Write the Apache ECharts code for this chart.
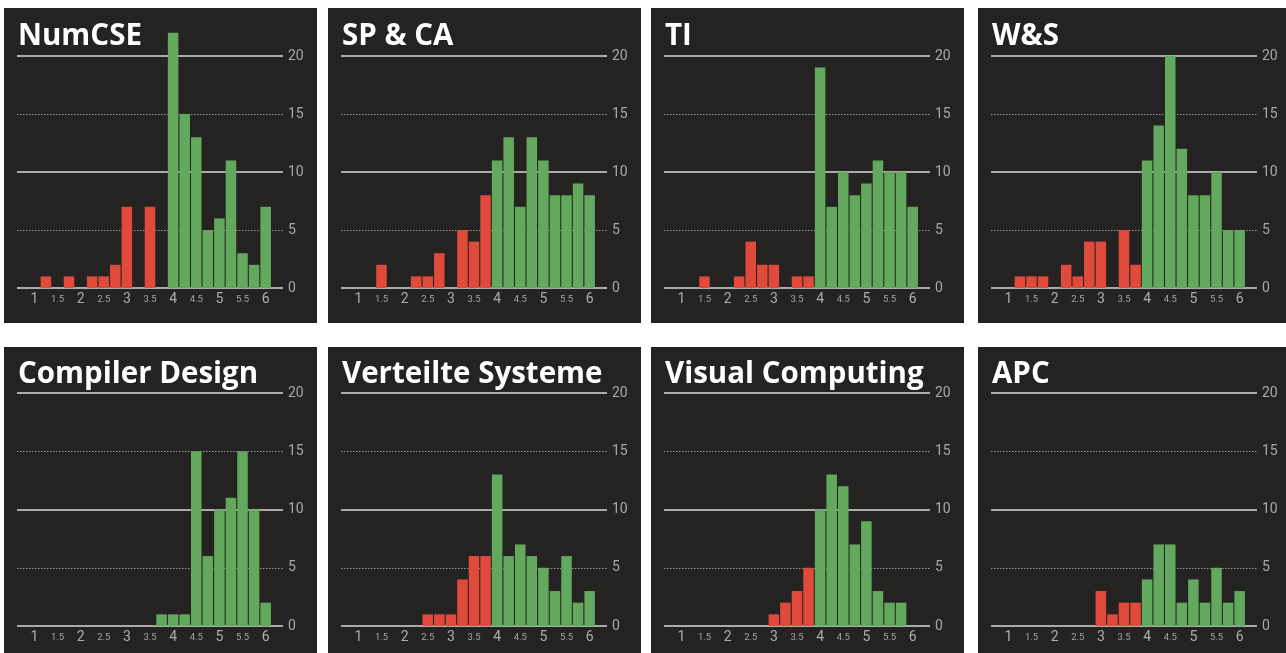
<!DOCTYPE html>
<html>
<head>
<meta charset="utf-8">
<script src="https://cdn.jsdelivr.net/npm/echarts@6/dist/echarts.min.js"></script>
<style>
  html, body { margin: 0; padding: 0; background: #ffffff; }
  #chart { width: 1286px; height: 653px; }
</style>
</head>
<body>
<div id="chart"></div>
<script>
// ---- Data ----
const grades = ['1','1.25','1.5','1.75','2','2.25','2.5','2.75','3','3.25','3.5','3.75','4','4.25','4.5','4.75','5','5.25','5.5','5.75','6'];
const courses = ['NumCSE', 'SP & CA', 'TI', 'W&S', 'Compiler Design', 'Verteilte Systeme', 'Visual Computing', 'APC'];
const numCSE       = [0,1,0,1,0,1,1,2,7,0,7,0,22,15,13,5,6,11,3,2,7];
const spCA         = [0,0,2,0,0,1,1,3,0,5,4,8,11,13,7,13,11,8,8,9,8];
const ti           = [0,0,1,0,0,1,4,2,2,0,1,1,19,7,10,8,9,11,10,10,7];
const wS           = [0,1,1,1,0,2,1,4,4,0,5,2,11,14,20,12,8,8,10,5,5];
const compiler     = [0,0,0,0,0,0,0,0,0,0,0,1,1,1,15,6,10,11,15,10,2];
const verteilte    = [0,0,0,0,0,0,1,1,1,4,6,6,13,6,7,6,5,3,6,2,3];
const visualComp   = [0,0,0,0,0,0,0,0,1,2,3,5,10,13,12,7,9,3,2,2,0];
const apc          = [0,0,0,0,0,0,0,0,3,1,2,2,4,7,7,2,4,2,5,2,3];
const courseValues = [numCSE, spCA, ti, wS, compiler, verteilte, visualComp, apc];
// grade from which bars are shown as passing (green)
const passFrom = ['4','4','4','4','3.75','4','4','4'];
const yTicks = [0, 5, 10, 15, 20];
const xTickLabels = ['1','1.5','2','2.5','3','3.5','4','4.5','5','5.5','6'];

// ---- Layout / style ----
const GREEN = '#62a95d';
const RED = '#df4a3b';
const PANEL = '#252222';
const gridLefts = [17, 341, 664, 991];
const gridW = 266;

const chart = echarts.init(document.getElementById('chart'), null, { renderer: 'canvas' });

const cats = [''].concat(grades, ['']);
const grids = [], xAxes = [], yAxes = [], series = [], graphics = [];

courses.forEach((name, i) => {
  const col = i % 4, row = Math.floor(i / 4);
  const gl = gridLefts[col];
  const gt = row ? 393 : 56;
  const gh = row ? 233 : 232;
  const panelTop = row ? 347 : 8;
  const panelH = row ? 320 : 315;

  graphics.push({
    type: 'rect', z: -10, silent: true,
    shape: { x: gl - 13, y: panelTop, width: 313, height: panelH },
    style: { fill: PANEL }
  });
  graphics.push({
    type: 'text', z: 10, silent: true,
    x: gl + 1, y: row ? 375 : 37,
    style: {
      text: name, fill: '#ffffff',
      font: 'bold 29.5px "Open Sans", Lato, sans-serif',
      textAlign: 'left', textVerticalAlign: 'middle'
    }
  });

  grids.push({ left: gl, top: gt, width: gridW, height: gh, containLabel: false });

  xAxes.push({
    type: 'category', gridIndex: i, data: cats, boundaryGap: true,
    axisLine: { show: false }, axisTick: { show: false },
    splitLine: { show: false },
    axisLabel: {
      margin: 3,
      interval: (idx, val) => xTickLabels.indexOf(val) >= 0,
      formatter: (val) => (val.indexOf('.') >= 0 ? '{s|' + val + '}' : '{b|' + val + '}'),
      rich: {
        b: { fontSize: 14, color: '#adadad', fontFamily: 'Roboto, sans-serif', verticalAlign: 'bottom', lineHeight: 15 },
        s: { fontSize: 9.5, color: '#a5a5a5', fontFamily: 'Roboto, sans-serif', verticalAlign: 'bottom', lineHeight: 15, padding: [0, 0, 1, 0] }
      }
    }
  });

  // dotted lines at 5 and 15 (with labels)
  yAxes.push({
    type: 'value', gridIndex: i, position: 'right', min: yTicks[0], max: yTicks[yTicks.length - 1], interval: yTicks[1] - yTicks[0],
    axisLine: { show: false }, axisTick: { show: false },
    axisLabel: { show: true, margin: 5, color: '#a8a8a8', fontSize: 14, fontFamily: 'Roboto, sans-serif' },
    splitLine: { show: true, lineStyle: { type: [1.5, 1.5], width: 1, color: ['rgba(0,0,0,0)', '#9a9a9a', 'rgba(0,0,0,0)', '#9a9a9a', 'rgba(0,0,0,0)'] } }
  });
  // solid lines at 0, 10, 20
  yAxes.push({
    type: 'value', gridIndex: i, position: 'right', min: yTicks[0], max: yTicks[yTicks.length - 1], interval: yTicks[2] - yTicks[0],
    axisLine: { show: false }, axisTick: { show: false },
    axisLabel: { show: false },
    splitLine: { show: true, lineStyle: { type: 'solid', width: 1.5, color: '#d9d9d9' } }
  });

  const passIdx = grades.indexOf(passFrom[i]) + 1;
  series.push({
    type: 'bar', xAxisIndex: i, yAxisIndex: 2 * i, clip: false,
    data: [null].concat(courseValues[i], [null]),
    barCategoryGap: '9%',
    itemStyle: { color: (p) => (p.dataIndex >= passIdx ? GREEN : RED) },
    emphasis: { disabled: true },
    z: 5
  });
});

chart.setOption({
  animation: false,
  backgroundColor: '#ffffff',
  grid: grids,
  xAxis: xAxes,
  yAxis: yAxes,
  series: series,
  graphic: { elements: graphics }
});
</script>
</body>
</html>
